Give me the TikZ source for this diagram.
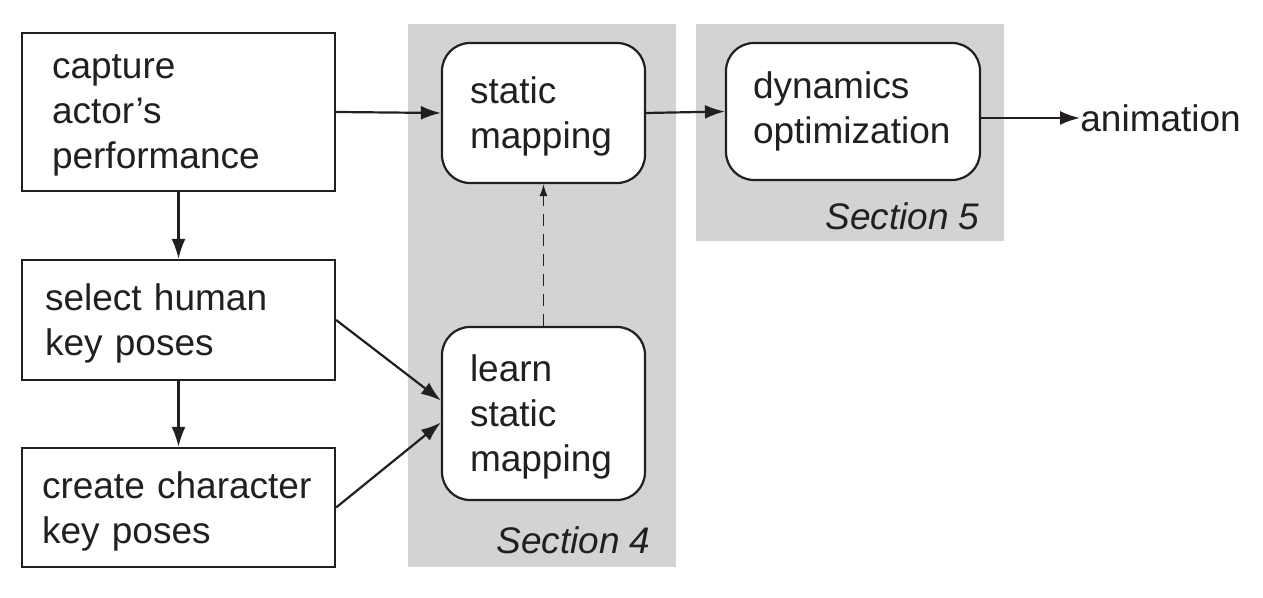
\documentclass[tikz,border=0pt]{standalone}
\usepackage{fontspec}
\setmainfont{Liberation Sans}
\usepackage{tikz}
\usetikzlibrary{arrows.meta}
\usepackage{xcolor}
\definecolor{ink}{RGB}{35,31,32}
\definecolor{secgray}{RGB}{209,211,212}

\begin{document}
\begin{tikzpicture}[x=0.5pt,y=-0.5pt,
  every node/.style={font=\fontsize{18.5}{22.5}\selectfont, text=ink},
  sqbox/.style={draw=ink, line width=1.1pt, fill=white, align=left, inner ysep=0pt},
  twolines/.style={text depth=22.5pt},
  threelines/.style={text depth=45pt},
  rbox/.style={sqbox, rounded corners=14pt, text width=73.5pt, inner xsep=14pt, minimum width=101.5pt},
  flow/.style={draw=ink, line width=1.1pt, -{Latex[length=10pt,width=7pt]}},
  sectag/.style={anchor=east, inner sep=0pt, font=\fontsize{18.5}{22.5}\selectfont\itshape}]
\useasboundingbox (0,0) rectangle (1263,598);
\fill [secgray] (408,24) rectangle (676,567);
\fill [secgray] (696,24) rectangle (1004,241);
\node [sqbox, threelines, text width=126.5pt, inner xsep=15pt, minimum height=79pt] (capture) at (178.5,112) {capture\\actor’s\\performance};
\node [sqbox, twolines, text width=133.5pt, inner xsep=11.5pt, minimum height=60pt] (select) at (178.5,320) {select human\\key poses};
\node [sqbox, twolines, text width=136.5pt, inner xsep=10pt, minimum height=59.5pt] (create) at (178.5,507.5) {create character\\key poses};
\node [rbox, twolines, minimum height=70pt] (static) at (543.5,113) {static\\mapping};
\node [rbox, threelines, minimum height=86.5pt] (learn) at (543.5,413.5) {learn\\static\\mapping};
\node [rbox, text width=100pt, inner xsep=13.5pt, minimum width=127pt, minimum height=68.5pt] (dyn) at (853,111.5) {dynamics\\optimization};
\node [anchor=west, inner sep=0pt] (anim) at (1080,118) {animation};
\node [sectag] (sec4) at (651,540) {Section 4};
\node [sectag] (sec5) at (980,216) {Section 5};
\draw [flow] (capture.east) -- (static.west);
\draw [flow] (static.east) -- (dyn.west);
\draw [flow] (dyn.east |- anim.west) -- (anim.west);
\draw [flow] (capture.south) -- (select.north);
\draw [flow] (select.south) -- (create.north);
\draw [flow] (select.east) -- ([yshift=6.5pt]learn.west);
\draw [flow] (create.east) -- ([yshift=-4.5pt]learn.west);
\draw [draw=ink, line width=0.6pt, dash pattern=on 6pt off 4pt, -{Latex[length=6pt,width=4pt]}] (learn.north) -- (static.south);
\end{tikzpicture}
\end{document}
